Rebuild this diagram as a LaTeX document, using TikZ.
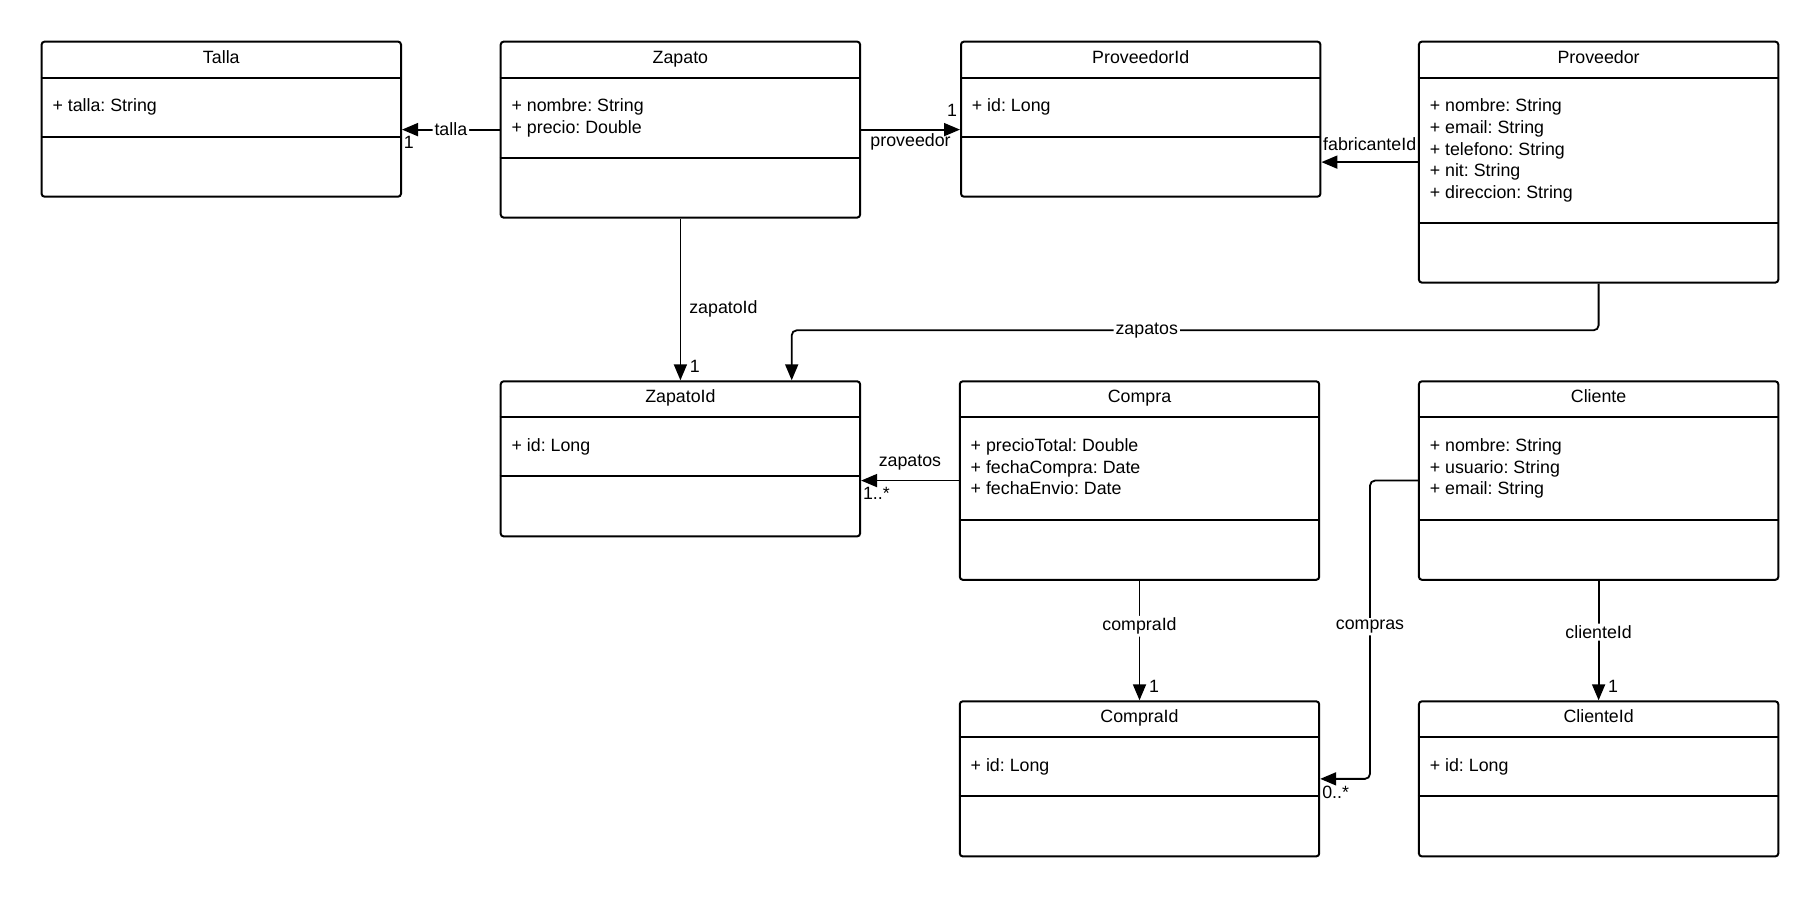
\documentclass[tikz,border=0pt]{standalone}
\usepackage{fontspec}
\setmainfont{Liberation Sans}
\usetikzlibrary{arrows.meta,calc}
\frenchspacing

\newcommand{\clase}[6]{%
  \node[caja,minimum height={(96+#4)*0.5pt}] (#1) at (#2,#3) {};
  \draw[linea] ($(#1.north west)+(0,37)$) -- ($(#1.north east)+(0,37)$);
  \draw[linea] ($(#1.north west)+(0,37+#4)$) -- ($(#1.north east)+(0,37+#4)$);
  \node[texto,anchor=base] at ($(#1.north)+(0,22.5)$) {#5};
  \foreach \a [count=\i] in {#6}
    \node[texto,anchor=base west] at ($(#1.north west)+(11.5,49.5+21.7*\i)$) {\a};
}

\begin{document}
\begin{tikzpicture}[x=0.5pt,y=-0.5pt,
  caja/.style={draw,line width=1pt,rounded corners=1.5pt,minimum width=179.7pt,anchor=north west,inner sep=0},
  linea/.style={line width=1pt},
  texto/.style={inner sep=0,font=\fontsize{8.9}{10.85}\selectfont},
  flecha/.style={line width=0.9pt,rounded corners=2.5pt,-{Triangle[length=8pt,width=6.5pt]}},
  etiq/.style={texto,fill=white,inner sep=1pt}]
\useasboundingbox (0,0) rectangle (1818,896);

\clase{talla}{40.6}{40.6}{59.1}{Talla}{+ talla: String}
\clase{zapato}{499.7}{40.6}{80}{Zapato}{+ nombre: String, + precio: Double}
\clase{provId}{960}{40.6}{59.1}{ProveedorId}{+ id: Long}
\clase{proveedor}{1417.9}{40.6}{145}{Proveedor}{+ nombre: String, + email: String, + telefono: String, + nit: String, + direccion: String}
\clase{zapatoId}{499.7}{380.3}{59.1}{ZapatoId}{+ id: Long}
\clase{compra}{958.8}{380.3}{102.5}{Compra}{+ precioTotal: Double, + fechaCompra: Date, + fechaEnvio: Date}
\clase{cliente}{1417.9}{380.3}{102.5}{Cliente}{+ nombre: String, + usuario: String, + email: String}
\clase{compraId}{958.8}{700.3}{59.1}{CompraId}{+ id: Long}
\clase{clienteId}{1417.9}{700.3}{59.1}{ClienteId}{+ id: Long}

\coordinate (codo) at ($(zapatoId.north)+(111.3,-50)$);
\coordinate (bajada) at ($(compraId.east)+(49.8,0)$);

\draw[flecha] (zapato.west) -- node[etiq]{talla} (talla.east |- zapato.west)
  node[texto,anchor=north west,xshift=0.5pt,yshift=-3.1pt]{1};
\draw[flecha] (zapato.east) -- node[texto,anchor=north,yshift=-1.6pt]{proveedor} (provId.west |- zapato.east)
  node[texto,anchor=south east,xshift=-1pt,yshift=6.1pt]{1};
\draw[flecha] (proveedor.west) -- node[texto,anchor=south,yshift=5.4pt]{fabricanteId} (provId.east |- proveedor.west);
\draw[flecha] (zapato.south) -- node[texto,anchor=west,pos=0.56,xshift=4pt]{zapatoId} (zapatoId.north)
  node[texto,anchor=south west,xshift=4.3pt,yshift=3.7pt]{1};
\draw[flecha] (proveedor.south) |- node[etiq,pos=0.78]{zapatos} (codo) -- (codo |- zapatoId.north);
\draw[flecha] (compra.west) -- node[texto,anchor=south,yshift=4.5pt]{zapatos} (zapatoId.east |- compra.west)
  node[texto,anchor=north west,xshift=0.5pt,yshift=-2.9pt]{1..*};
\draw[flecha] (compra.south) -- node[etiq,pos=0.38]{compraId} (compraId.north)
  node[texto,anchor=south west,xshift=4.3pt,yshift=3.7pt]{1};
\draw[flecha] (cliente.west) -| node[etiq,pos=0.745]{compras} (bajada) -- (compraId.east)
  node[texto,anchor=north west,xshift=0.6pt,yshift=-3.2pt]{0..*};
\draw[flecha] (cliente.south) -- node[etiq,pos=0.43]{clienteId} (clienteId.north)
  node[texto,anchor=south west,xshift=4.3pt,yshift=3.7pt]{1};
\end{tikzpicture}
\end{document}
